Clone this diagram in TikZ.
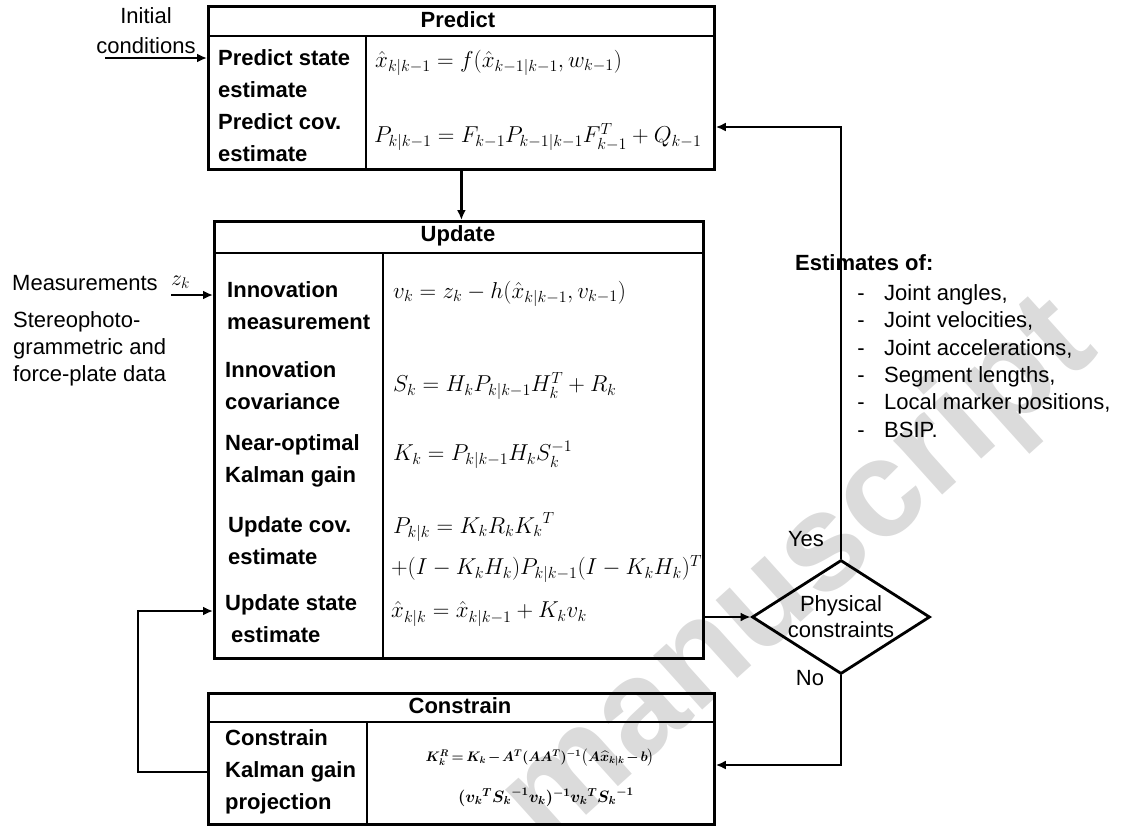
\RequirePackage{fix-cm}
\documentclass[tikz,border=0pt]{standalone}
\usepackage{amsmath,bm}
\usepackage{fontspec}
\setmainfont{Liberation Sans}
\usetikzlibrary{arrows.meta,shapes.geometric,calc}
\begin{document}
\begin{tikzpicture}[x=1pt,y=-1pt,
 box/.style={draw, line width=2.8pt, inner sep=0, anchor=north west},
 lbl/.style={anchor=west, inner sep=0, align=left, font=\bfseries\fontsize{22}{32}\selectfont},
 eq/.style={anchor=west, inner sep=0, font=\fontsize{23}{28}\selectfont},
 ceqa/.style={inner sep=0, font=\fontsize{13.8}{18}\selectfont\boldmath},
 ceqb/.style={inner sep=0, font=\fontsize{16.5}{20}\selectfont\boldmath},
 hdr/.style={inner sep=0, font=\bfseries\fontsize{22}{26}\selectfont},
 txt/.style={inner sep=0, font=\fontsize{22}{27}\selectfont},
 ln/.style={line width=2.8pt},
 arr/.style={line width=2.8pt, -{Latex[length=10pt,width=9pt]}},
 wm/.style={inner sep=0, text=black!14, font=\bfseries\fontsize{138}{138}\selectfont}]
\useasboundingbox (0,0) rectangle (1121,825);

% watermark
\node[wm, rotate=42] (wmark) at (800,575) {manuscript};

% boxes
\node[box, minimum width=506, minimum height=163] (pred) at (207,5) {};
\node[box, minimum width=489, minimum height=437] (upd) at (213,220) {};
\node[box, minimum width=506, minimum height=131] (con) at (207,692) {};
\node[diamond, draw, line width=2.8pt, minimum width=178, minimum height=114, inner sep=0] (dia) at (841,617) {};

% inner rules
\draw[ln] (207,36) -- (713,36);
\draw[ln] (366,36) -- (366,168);
\draw[ln] (213,253) -- (702,253);
\draw[ln] (383,253) -- (383,657);
\draw[ln] (207,722) -- (713,722);
\draw[ln] (367,722) -- (367,823);

% headers
\node[hdr] (hpred) at (458,20) {Predict};
\node[hdr] (hupd) at (458,236) {Update};
\node[hdr] (hcon) at (460,706) {Constrain};

% predict contents
\node[lbl] (lp1) at (218,74) {Predict state\\estimate};
\node[lbl] (lp2) at (218,138) {Predict cov.\\estimate};
\node[eq] (ep1) at (375,63) {$\hat{x}_{k|k-1} = f(\hat{x}_{k-1|k-1}, w_{k-1})$};
\node[eq] (ep2) at (374,137) {$P_{k|k-1} = F_{k-1}P_{k-1|k-1}F_{k-1}^{T} + Q_{k-1}$};

% update contents
\node[lbl] (lu1) at (227,306) {Innovation\\measurement};
\node[lbl] (lu2) at (225,386) {Innovation\\covariance};
\node[lbl] (lu3) at (225,461) {Near-optimal\\Kalman gain};
\node[lbl] (lu4) at (228,541) {Update cov.\\estimate};
\node[lbl] (lu5) at (225,619) {Update state\\\hspace*{6pt}estimate};
\node[eq] (eu1) at (393,294) {$v_k = z_k - h(\hat{x}_{k|k-1}, v_{k-1})$};
\node[eq] (eu2) at (393,386) {$S_k = H_k P_{k|k-1} H_k^{T} + R_k$};
\node[eq] (eu3) at (393,455) {$K_k = P_{k|k-1} H_k S_k^{-1}$};
\node[eq] (eu4) at (393,527) {$P_{k|k} = K_k R_k {K_k}^{T}$};
\node[eq] (eu5) at (391,569) {$+(I - K_k H_k) P_{k|k-1} (I - K_k H_k)^{T}$};
\node[eq] (eu6) at (391,614) {$\hat{x}_{k|k} = \hat{x}_{k|k-1} + K_k v_k$};

% constrain contents
\node[lbl] (lc1) at (225,772) {Constrain\\Kalman gain\\projection};
\node[ceqa] (ec1) at (540,758) {\medmuskip=2mu\thickmuskip=3mu$K_k^{R} = K_k - A^{T}(AA^{T})^{-1}\big(A\widehat{x}_{k|k} - b\big)$};
\node[ceqb] (ec2) at (546,797) {$({v_k}^{T}{S_k}^{-1}v_k)^{-1}{v_k}^{T}{S_k}^{-1}$};

% diamond text and labels
\node[txt, align=center, font=\fontsize{22}{26}\selectfont] (dtext) at (dia.center) {Physical\\constraints};
\node[txt] (yes) at (806,539) {Yes};
\node[txt] (no) at (810,678) {No};

% left texts
\node[txt] (init1) at (146,16) {Initial};
\node[txt] (init2) at (146,46) {conditions};
\node[txt, anchor=west] (meas) at (12,283) {Measurements};
\node[txt, anchor=west] (zk) at (171,282) {$z_k$};
\node[txt, anchor=west, align=left] (stereo) at (13,349) {Stereophoto-\\grammetric and\\force-plate data};

% estimates
\node[txt, anchor=west, font=\bfseries\fontsize{22}{27}\selectfont] (est) at (795,263) {Estimates of:};
\foreach \y/\t [count=\i] in {300/{Joint angles,}, 327.5/{Joint velocities,}, 355/{Joint accelerations,}, 382/{Segment lengths,}, 409.5/{Local marker positions,}, 437/{BSIP.}} {
  \node[txt, anchor=base] (d\i) at (861,\y) {-};
  \node[txt, anchor=base west] (e\i) at (884,\y) {\t};
}

% connectors
\coordinate (i0) at (105,58);
\draw[arr] (i0) -- (pred.west |- i0);
\draw[arr] (pred.south) -- (pred.south |- upd.north);
\coordinate (m0) at (171,295);
\draw[arr] (m0) -- (m0 -| upd.west);
\draw[arr] (upd.east |- dia.west) -- (dia.west);
\draw[arr] (dia.north) |- (pred.east |- 0,127);
\draw[arr] (dia.south) |- (con.east |- 0,765);
\coordinate (lb) at (138,772);
\draw[arr] (con.west |- lb) -- (lb) |- (upd.west |- 0,611);
\end{tikzpicture}
\end{document}
